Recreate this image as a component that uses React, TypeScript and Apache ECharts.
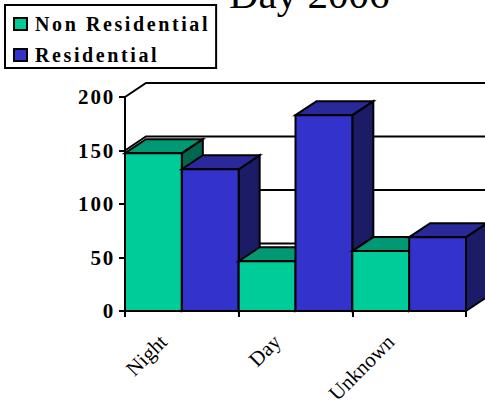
import React, { useEffect, useRef } from "react";
import * as echarts from "echarts";

const categories = ["Night", "Day", "Unknown"];
const nonResidential = [147.5, 46.5, 56];
const residential = [132.5, 183, 69];
const wallTicks = [0, 50, 100, 150, 200];
const titleText = "Day 2006";
const serif = "'Liberation Serif', 'Times New Roman', serif";
const DX = 21;
const DY = -14;

function poly(points: number[][], fill: string, z2: number) {
  return {
    type: "polygon",
    z2,
    shape: { points },
    style: { fill, stroke: "#000", lineWidth: 2, lineJoin: "miter" },
  };
}

function barSeries(name: string, values: number[], pos: number, front: string, top: string, side: string) {
  return {
    name,
    type: "custom",
    coordinateSystem: "cartesian2d",
    itemStyle: { color: front },
    encode: { x: 0, y: 1 },
    data: values.map((v, i) => [i, v]),
    renderItem: (_p: any, api: any) => {
      const i = api.value(0);
      const v = api.value(1);
      const c = api.coord([i, v]);
      const base = api.coord([i, 0]);
      const band = api.size([1, 0])[0];
      const x0 = c[0] - band / 2 + (pos * band) / 2;
      const x1 = x0 + band / 2;
      const y = c[1];
      const z = 10 + i * 2 + pos;
      return {
        type: "group",
        children: [
          poly([[x1, y], [x1 + DX, y + DY], [x1 + DX, base[1] + DY], [x1, base[1]]], side, z),
          poly([[x0, y], [x0 + DX, y + DY], [x1 + DX, y + DY], [x1, y]], top, z),
          poly([[x0, y], [x1, y], [x1, base[1]], [x0, base[1]]], front, z),
        ],
      };
    },
  };
}

export default function App() {
  const ref = useRef<HTMLDivElement>(null);
  useEffect(() => {
    document.body.style.margin = "0";
    const chart = echarts.init(ref.current!, null, { renderer: "svg" });
    chart.setOption({
      animation: false,
      backgroundColor: "#fff",
      title: {
        text: titleText,
        left: 229,
        top: -27,
        padding: 0,
        textStyle: { fontFamily: serif, fontSize: 41, fontWeight: "normal", color: "#000" },
      },
      legend: {
        orient: "vertical",
        left: 5,
        top: 5,
        selectedMode: false,
        backgroundColor: "#fff",
        borderColor: "#000",
        borderWidth: 2,
        padding: [9, 45, 3, 8],
        itemGap: 11,
        itemWidth: 13,
        itemHeight: 12,
        itemStyle: { borderColor: "#000", borderWidth: 2 },
        textStyle: { fontFamily: serif, fontSize: 20, fontWeight: "bold", color: "#000", padding: [0, 0, 0, 3] },
        data: [
          { name: "Non Residential", icon: "rect" },
          { name: "Residential", icon: "rect" },
        ],
      },
      grid: { left: 125, right: 19, top: 97, bottom: 91, outerBoundsMode: "none" },
      xAxis: {
        type: "category",
        data: categories,
        boundaryGap: true,
        axisLine: { lineStyle: { color: "#000", width: 2 } },
        axisTick: { show: true, alignWithLabel: false, length: 6, lineStyle: { color: "#000", width: 2 } },
        axisLabel: {
          rotate: 45,
          interval: 0,
          margin: 9,
          padding: [0, 26, 0, 0],
          fontFamily: serif,
          fontSize: 21,
          color: "#000",
        },
      },
      yAxis: {
        type: "value",
        min: 0,
        max: 200,
        interval: 50,
        axisLine: { show: true, lineStyle: { color: "#000", width: 2 } },
        axisTick: { show: true, length: 6, lineStyle: { color: "#000", width: 2 } },
        splitLine: { show: false },
        axisLabel: { margin: 10, fontFamily: serif, fontSize: 21, fontWeight: "bold", color: "#000" },
      },
      series: [
        {
          type: "custom",
          silent: true,
          coordinateSystem: "cartesian2d",
          encode: { x: 0, y: 1 },
          data: wallTicks.map((v) => [0, v]),
          renderItem: (_p: any, api: any) => {
            const c = api.coord([0, api.value(1)]);
            const x0 = c[0] - api.size([1, 0])[0] / 2;
            return {
              type: "polyline",
              z2: 1,
              shape: { points: [[x0, c[1]], [x0 + DX, c[1] + DY], [487, c[1] + DY]] },
              style: { fill: "none", stroke: "#000", lineWidth: 2 },
            };
          },
        },
        barSeries("Non Residential", nonResidential, 0, "#00CC99", "#009973", "#00664D"),
        barSeries("Residential", residential, 1, "#3333CC", "#29299C", "#1B1B66"),
      ],
    });
    ref.current!.querySelectorAll("text").forEach((t) => {
      const s = t.getAttribute("style") || "";
      if (s.includes("bold")) (t as unknown as HTMLElement).style.letterSpacing = s.includes("20px") ? "2.6px" : "1.8px";
    });
    return () => chart.dispose();
  }, []);
  return <div ref={ref} style={{ width: 485, height: 402 }} />;
}
